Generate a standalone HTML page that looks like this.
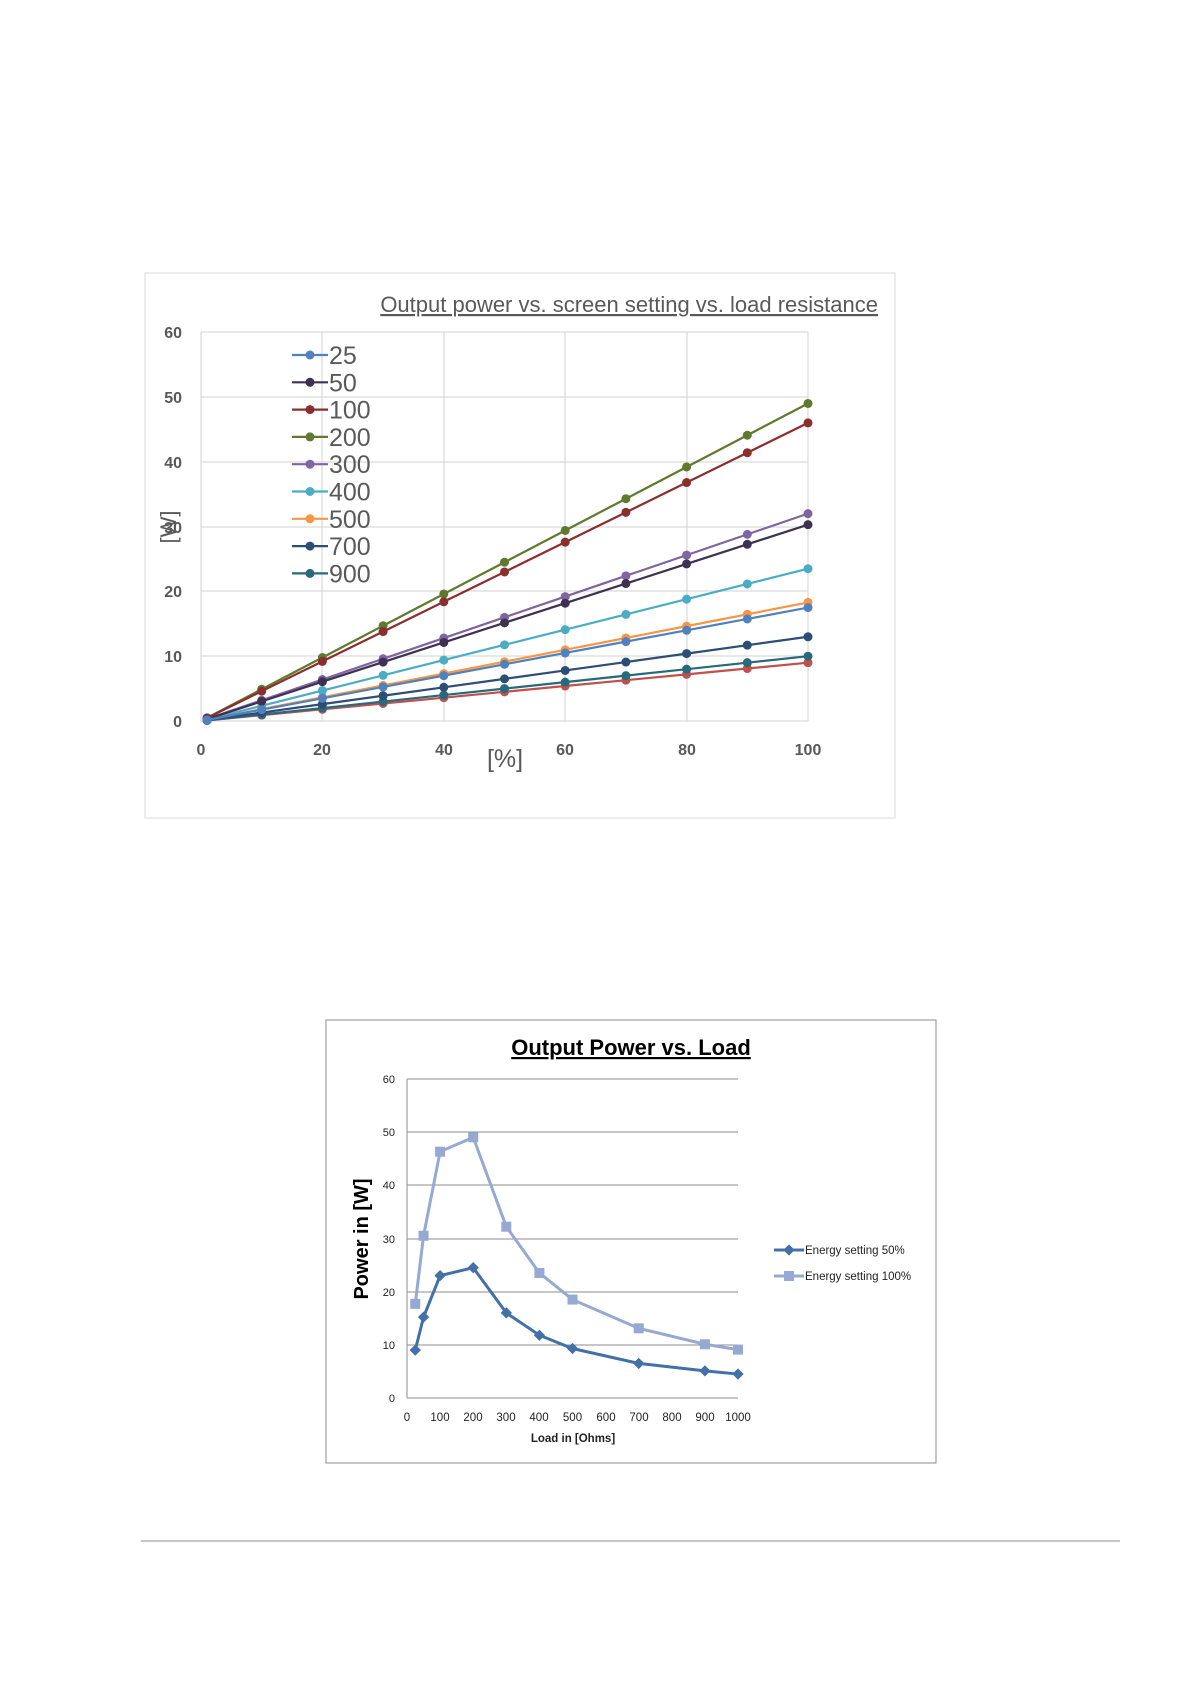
<!DOCTYPE html>
<html><head><meta charset="utf-8"><style>
html,body{margin:0;padding:0;background:#fff;}
svg{display:block;}
text{font-family:"Liberation Sans",sans-serif;}
</style></head><body>
<svg width="1191" height="1684" viewBox="0 0 1191 1684" xmlns="http://www.w3.org/2000/svg">
<rect x="145" y="273" width="750" height="545" fill="#fff" stroke="#d9d9d9" stroke-width="1"/>
<text x="878" y="312" text-anchor="end" font-size="22" fill="#595959" text-decoration="underline">Output power vs. screen  setting vs. load resistance</text>
<g stroke="#d9d9d9" stroke-width="1.2">
<line x1="201" y1="332" x2="808" y2="332"/><line x1="201" y1="397" x2="808" y2="397"/><line x1="201" y1="462" x2="808" y2="462"/><line x1="201" y1="527" x2="808" y2="527"/><line x1="201" y1="591" x2="808" y2="591"/><line x1="201" y1="656" x2="808" y2="656"/><line x1="201" y1="721" x2="808" y2="721"/>
<line x1="201" y1="332" x2="201" y2="721"/><line x1="322" y1="332" x2="322" y2="721"/><line x1="444" y1="332" x2="444" y2="721"/><line x1="565" y1="332" x2="565" y2="721"/><line x1="687" y1="332" x2="687" y2="721"/><line x1="808" y1="332" x2="808" y2="721"/>
</g>
<g font-size="16" font-weight="bold" fill="#595959" text-anchor="end">
<text x="182" y="338">60</text><text x="182" y="403">50</text><text x="182" y="468">40</text><text x="182" y="533">30</text><text x="182" y="597">20</text><text x="182" y="662">10</text><text x="182" y="727">0</text>
</g>
<g font-size="16" font-weight="bold" fill="#595959" text-anchor="middle">
<text x="201" y="755">0</text><text x="322" y="755">20</text><text x="444" y="755">40</text><text x="565" y="755">60</text><text x="687" y="755">80</text><text x="808" y="755">100</text>
</g>
<text x="505" y="767" font-size="25" fill="#595959" text-anchor="middle">[%]</text>
<text transform="translate(176,527) rotate(-90)" font-size="22" fill="#595959" text-anchor="middle">[W]</text>
<g id="series" stroke-width="2.2" fill="none"></g>
<g id="legend"></g>
<g transform="translate(-2,-6)">
<rect x="328" y="1026" width="610" height="443" fill="#fff" stroke="#8c8c8c" stroke-width="1"/>
<text x="633" y="1061" text-anchor="middle" font-size="22" font-weight="bold" fill="#000" text-decoration="underline">Output Power vs. Load</text>
<g stroke="#8c8c8c" stroke-width="1">
<line x1="409" y1="1085" x2="740" y2="1085"/><line x1="409" y1="1138" x2="740" y2="1138"/><line x1="409" y1="1191" x2="740" y2="1191"/><line x1="409" y1="1245" x2="740" y2="1245"/><line x1="409" y1="1298" x2="740" y2="1298"/><line x1="409" y1="1351" x2="740" y2="1351"/><line x1="409" y1="1404" x2="740" y2="1404"/>
<line x1="409" y1="1085" x2="409" y2="1404"/>
</g>
<g font-size="11" fill="#222" text-anchor="end">
<text x="397" y="1089">60</text><text x="397" y="1142">50</text><text x="397" y="1195">40</text><text x="397" y="1249">30</text><text x="397" y="1302">20</text><text x="397" y="1355">10</text><text x="397" y="1408">0</text>
</g>
<g font-size="11.5" fill="#222" text-anchor="middle">
<text x="409" y="1427">0</text><text x="442" y="1427">100</text><text x="475" y="1427">200</text><text x="508" y="1427">300</text><text x="541" y="1427">400</text><text x="574.5" y="1427">500</text><text x="608" y="1427">600</text><text x="641" y="1427">700</text><text x="674" y="1427">800</text><text x="707" y="1427">900</text><text x="740" y="1427">1000</text>
</g>
<text x="575" y="1448" font-size="11.5" font-weight="bold" fill="#222" text-anchor="middle">Load in [Ohms]</text>
<text transform="translate(370,1245) rotate(-90)" font-size="20" font-weight="bold" fill="#000" text-anchor="middle">Power in [W]</text>
<g id="s2"></g>
<line x1="776" y1="1256" x2="806" y2="1256" stroke="#4470a8" stroke-width="3"/>
<rect x="787" y="1252" width="8" height="8" fill="#4470a8" transform="rotate(45 791 1256)"/>
<text x="807" y="1260" font-size="11.5" fill="#222">Energy setting 50%</text>
<line x1="776" y1="1282" x2="806" y2="1282" stroke="#95a9d2" stroke-width="3"/>
<rect x="786" y="1277" width="10" height="10" fill="#95a9d2"/>
<text x="807" y="1286" font-size="11.5" fill="#222">Energy setting 100%</text>
</g>
<line x1="141" y1="1541" x2="1120" y2="1541" stroke="#8c8c8c" stroke-width="1"/>
</svg>
<script>
(function(){
var ns="http://www.w3.org/2000/svg";
function el(p,t,a){var e=document.createElementNS(ns,t);for(var k in a)e.setAttribute(k,a[k]);p.appendChild(e);return e;}
var S=[["25",17.5,"#4f81bd"],["50",30.3,"#3f3151"],["100",46,"#8b2e2e"],["200",49,"#5f7a2f"],["300",32,"#8064a2"],["400",23.5,"#4bacc6"],["500",18.3,"#f79646"],["700",13,"#2c4d75"],["900",10,"#276a7c"],[null,9,"#c0504d"]];
var g=document.getElementById("series"),lg=document.getElementById("legend");
function X(v){return 201+6.07*v;}function Y(v){return 721-6.48*v;}
S.slice().reverse().forEach(function(s){
 var pts=[];for(var i=0;i<=10;i++){var x=i==0?1:i*10;pts.push(X(x)+","+Y(s[1]*x/100));}
 el(g,"polyline",{points:pts.join(" "),stroke:s[2],"stroke-width":2.2,fill:"none"});
 pts.forEach(function(p){var q=p.split(",");el(g,"circle",{cx:q[0],cy:q[1],r:4.5,fill:s[2]});});
});
S.forEach(function(s,i){if(!s[0])return;var y=355+i*27.3;
 el(lg,"line",{x1:292,y1:y,x2:328,y2:y,stroke:s[2],"stroke-width":2.2});
 el(lg,"circle",{cx:310,cy:y,r:4.5,fill:s[2]});
 var t=el(lg,"text",{x:329,y:y+9,"font-size":25,fill:"#595959"});t.textContent=s[0];});
var g2=document.getElementById("s2");
function X2(v){return 409+0.331*v;}function Y2(v){return 1404-5.32*v;}
var xs=[25,50,100,200,300,400,500,700,900,1000];
var a=[9,15.2,23,24.5,16,11.8,9.3,6.5,5.1,4.5],b=[17.7,30.5,46.3,49,32.2,23.5,18.5,13.1,10.1,9.1];
el(g2,"polyline",{points:xs.map(function(x,i){return X2(x)+","+Y2(b[i]);}).join(" "),stroke:"#95a9d2","stroke-width":3,fill:"none"});
xs.forEach(function(x,i){el(g2,"rect",{x:X2(x)-5,y:Y2(b[i])-5,width:10,height:10,fill:"#95a9d2"});});
el(g2,"polyline",{points:xs.map(function(x,i){return X2(x)+","+Y2(a[i]);}).join(" "),stroke:"#4470a8","stroke-width":3,fill:"none"});
xs.forEach(function(x,i){var cx=X2(x),cy=Y2(a[i]);el(g2,"rect",{x:cx-4,y:cy-4,width:8,height:8,fill:"#4470a8",transform:"rotate(45 "+cx+" "+cy+")"});});
})();
</script>
</body></html>
